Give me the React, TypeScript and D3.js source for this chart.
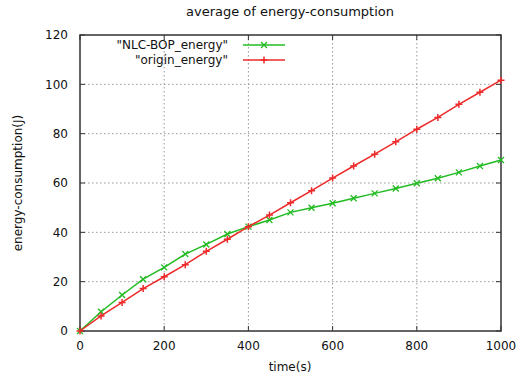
import * as d3 from "d3";

const times = [0, 50, 100, 150, 200, 250, 300, 350, 400, 450, 500, 550, 600, 650, 700, 750, 800, 850, 900, 950, 1000];
const nlcBop = [0, 7.8, 14.6, 21, 25.8, 31.2, 35.1, 39.3, 42.3, 45, 48.1, 50, 51.8, 53.8, 55.8, 57.8, 59.9, 61.9, 64.3, 66.9, 69.3];
const origin = [0, 6.1, 11.6, 17.2, 22, 26.9, 32.3, 37.2, 42.3, 47, 52, 56.9, 62, 66.9, 71.7, 76.7, 81.8, 86.6, 91.9, 96.8, 101.7];
const xTickValues = [0, 200, 400, 600, 800, 1000];
const yTickValues = [0, 20, 40, 60, 80, 100, 120];

const GREEN = "#22bb22";
const RED = "#ee2a2a";
const font = "DejaVu Sans, sans-serif";

export default function App() {
  const width = 519;
  const height = 377;
  const left = 80;
  const right = 501;
  const top = 35;
  const bottom = 331;

  const x = d3.scaleLinear().domain([0, 1000]).range([left, right]);
  const y = d3.scaleLinear().domain([0, 120]).range([bottom, top]);

  const line = d3
    .line<number>()
    .x((_, i) => x(times[i]))
    .y((d) => y(d));

  const cross = (cx: number, cy: number, k: string) => (
    <path key={k} d={`M${cx - 3},${cy - 3}L${cx + 3},${cy + 3}M${cx - 3},${cy + 3}L${cx + 3},${cy - 3}`} stroke={GREEN} strokeWidth={1.3} />
  );
  const plus = (cx: number, cy: number, k: string) => (
    <path key={k} d={`M${cx - 3.5},${cy}L${cx + 3.5},${cy}M${cx},${cy - 3.5}L${cx},${cy + 3.5}`} stroke={RED} strokeWidth={1.5} />
  );

  return (
    <svg width={width} height={height} style={{ position: "absolute", left: 0, top: 0, background: "#fff" }} fontFamily={font}>
      <rect width={width} height={height} fill="#fff" />
      <text x={290} y={16} textAnchor="middle" fontSize={13} fill="#111">
        average of energy-consumption
      </text>

      {/* grid */}
      {xTickValues.slice(1, -1).map((t) => (
        <line key={"gx" + t} x1={x(t)} x2={x(t)} y1={top} y2={bottom} stroke="#999" strokeDasharray="1.5,2.5" />
      ))}
      {yTickValues.slice(1, -1).map((t) => (
        <line key={"gy" + t} x1={left} x2={right} y1={y(t)} y2={y(t)} stroke="#999" strokeDasharray="1.5,2.5" />
      ))}

      {/* ticks, mirrored */}
      {xTickValues.map((t) => (
        <g key={"tx" + t}>
          <line x1={x(t)} x2={x(t)} y1={bottom} y2={bottom - 5} stroke="#333" />
          <line x1={x(t)} x2={x(t)} y1={top} y2={top + 5} stroke="#333" />
          <text x={x(t)} y={350} textAnchor="middle" fontSize={12} fill="#111">
            {t}
          </text>
        </g>
      ))}
      {yTickValues.map((t) => (
        <g key={"ty" + t}>
          <line x1={left} x2={left + 5} y1={y(t)} y2={y(t)} stroke="#333" />
          <line x1={right} x2={right - 5} y1={y(t)} y2={y(t)} stroke="#333" />
          <text x={68} y={y(t)} dy="0.35em" textAnchor="end" fontSize={12} fill="#111">
            {t}
          </text>
        </g>
      ))}

      <rect x={left} y={top} width={right - left} height={bottom - top} fill="none" stroke="#333" strokeWidth={1.5} />

      <text x={290} y={371} textAnchor="middle" fontSize={12} fill="#111">
        time(s)
      </text>
      <text transform={`translate(22,${(top + bottom) / 2}) rotate(-90)`} textAnchor="middle" fontSize={12} fill="#111">
        energy-consumption(J)
      </text>

      {/* series */}
      <path d={line(nlcBop) || ""} fill="none" stroke={GREEN} strokeWidth={1.5} />
      {nlcBop.map((v, i) => cross(x(times[i]), y(v), "g" + i))}
      <path d={line(origin) || ""} fill="none" stroke={RED} strokeWidth={1.5} />
      {origin.map((v, i) => plus(x(times[i]), y(v), "r" + i))}

      {/* legend */}
      <text x={228} y={45} dy="0.35em" textAnchor="end" fontSize={12} fill="#111">
        "NLC-BOP_energy"
      </text>
      <line x1={243} x2={285} y1={45} y2={45} stroke={GREEN} strokeWidth={1.5} />
      {cross(264, 45, "lg")}
      <text x={228} y={60} dy="0.35em" textAnchor="end" fontSize={12} fill="#111">
        "origin_energy"
      </text>
      <line x1={243} x2={285} y1={60} y2={60} stroke={RED} strokeWidth={1.5} />
      {plus(264, 60, "lr")}
    </svg>
  );
}
